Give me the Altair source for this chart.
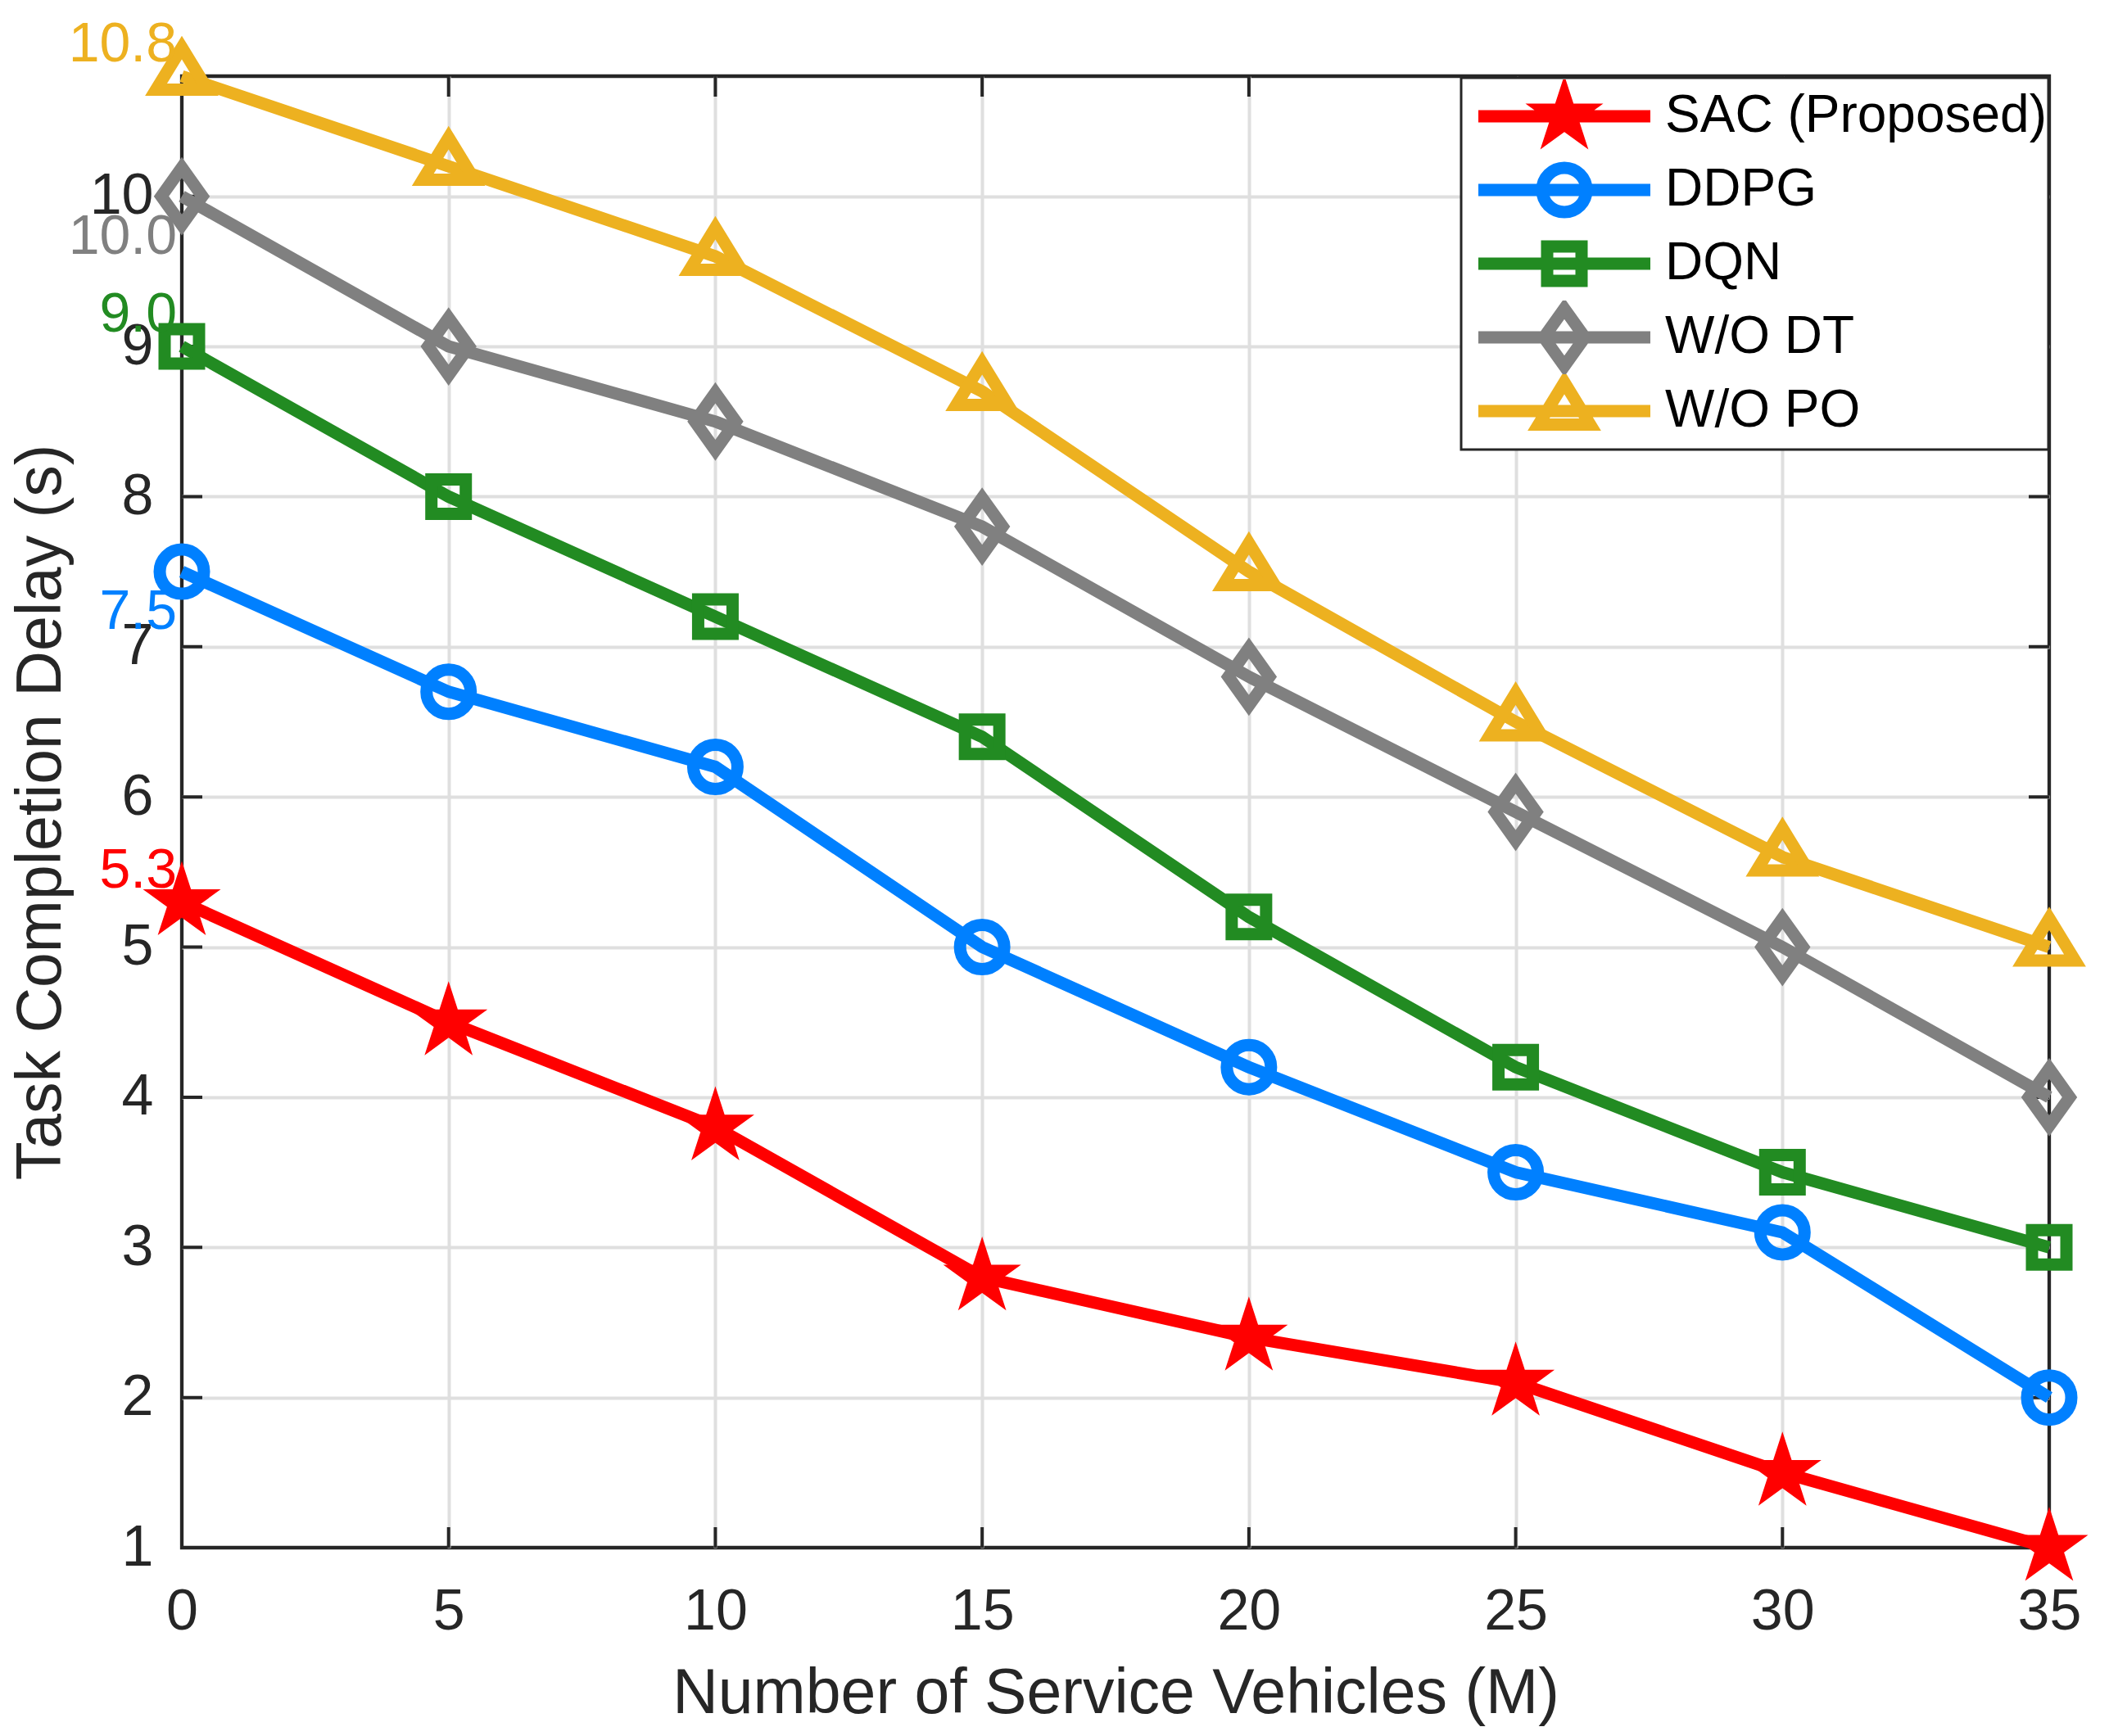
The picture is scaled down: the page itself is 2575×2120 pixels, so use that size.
import math

import altair as alt
import pandas as pd

# ---- data ----
vehicles = [0, 5, 10, 15, 20, 25, 30, 35]
series_names = ["SAC (Proposed)", "DDPG", "DQN", "W/O DT", "W/O PO"]
sac = [5.3, 4.5, 3.8, 2.8, 2.4, 2.1, 1.5, 1.0]
ddpg = [7.5, 6.7, 6.2, 5.0, 4.2, 3.5, 3.1, 2.0]
dqn = [9.0, 8.0, 7.2, 6.4, 5.2, 4.2, 3.5, 3.0]
wo_dt = [10.0, 9.0, 8.5, 7.8, 6.8, 5.9, 5.0, 4.0]
wo_po = [10.8, 10.2, 9.6, 8.7, 7.5, 6.5, 5.6, 5.0]

x_ticks = [0, 5, 10, 15, 20, 25, 30, 35]
y_ticks = [1, 2, 3, 4, 5, 6, 7, 8, 9, 10]
x_range = [0, 35]
y_range = [1, 10.8]

# series whose start label sits below the first marker
labels_below = ["DDPG", "W/O DT"]

colors = ["#FF0000", "#0080FF", "#228B22", "#808080", "#EDB120"]

FONT = "Liberation Sans"
INK = "#262626"
GRID = "#dfdfdf"


def marker_paths(unit):
    """SVG paths (vega symbol units) for star, circle, square, diamond, triangle.
    unit = pixels per path unit (sqrt(size) / 2). All are drawn stroke-only."""
    def p(x, y):
        return f"{x / unit:.4f},{y / unit:.4f}"

    def star_path(r_out):
        pts = []
        for k in range(10):
            r = r_out if k % 2 == 0 else r_out * 0.382
            a = math.radians(-90 + 36 * k)
            pts.append(p(r * math.cos(a), r * math.sin(a)))
        return "M" + "L".join(pts) + "Z"

    # a 15px miter stroke on a 25.7px star gives a solid 50px star
    star = star_path(25.7) + star_path(10)
    c = 27 / unit
    circle = f"M{-c:.4f},0A{c:.4f},{c:.4f},0,1,0,{c:.4f},0A{c:.4f},{c:.4f},0,1,0,{-c:.4f},0Z"
    square = "M" + "L".join([p(-21, -21), p(21, -21), p(21, 21), p(-21, 21)]) + "Z"
    diamond = "M" + "L".join([p(0, -35), p(25, 0), p(0, 35), p(-25, 0)]) + "Z"
    triangle = "M" + "L".join([p(0, -35), p(31.5, 16.5), p(-31.5, 16.5)]) + "Z"
    return [star, circle, square, diamond, triangle]


plot_paths = marker_paths(50)          # point size 10000
legend_unit = 24                       # legend symbolSize 2304
legend_paths = [
    m + f"M{-105 / legend_unit:.4f},0L{105 / legend_unit:.4f},0"
    for m in marker_paths(legend_unit)
]

df = pd.DataFrame({
    "M": vehicles * len(series_names),
    "delay": sac + ddpg + dqn + wo_dt + wo_po,
    "series": [s for s in series_names for _ in vehicles],
})
start = df[df["M"] == vehicles[0]]
start_above = start[~start["series"].isin(labels_below)]
start_below = start[start["series"].isin(labels_below)]

x_tick_df = pd.DataFrame({
    "M": x_ticks * 2,
    "delay": [y_range[0]] * len(x_ticks) + [y_range[1]] * len(x_ticks),
})
y_tick_df = pd.DataFrame({
    "M": [x_range[0]] * len(y_ticks) + [x_range[1]] * len(y_ticks),
    "delay": y_ticks * 2,
})

# ---- encodings ----
x_enc = alt.X(
    "M:Q",
    scale=alt.Scale(domain=x_range, nice=False, zero=False),
    axis=alt.Axis(
        values=x_ticks, title="Number of Service Vehicles (M)",
        ticks=False, domain=False, grid=True, gridWidth=4,
        gridColor={"condition": {"test": f"datum.value <= {x_range[0]} || datum.value >= {x_range[1]}",
                                 "value": "transparent"}, "value": GRID},
        labelFont=FONT, labelFontSize=70, labelColor=INK, labelPadding=44,
        labelFlush=False, labelOverlap=False,
        titleFont=FONT, titleFontSize=77, titleColor=INK, titleFontWeight="normal",
        titlePadding=27,
    ),
)
y_enc = alt.Y(
    "delay:Q",
    scale=alt.Scale(domain=y_range, nice=False, zero=False),
    axis=alt.Axis(
        values=y_ticks, title="Task Completion Delay (s)",
        ticks=False, domain=False, grid=True, gridWidth=4,
        gridColor={"condition": {"test": f"datum.value <= {y_range[0]} || datum.value >= {y_range[1]}",
                                 "value": "transparent"}, "value": GRID},
        labelFont=FONT, labelFontSize=70, labelColor=INK, labelPadding=35,
        labelFlush=False, labelOverlap=False,
        titleFont=FONT, titleFontSize=77, titleColor=INK, titleFontWeight="normal",
        titlePadding=20,
    ),
)
color_scale = alt.Scale(domain=series_names, range=colors)

legend = alt.Legend(
    title=None, orient="none", legendX=1562, legendY=2, direction="vertical",
    labelFont=FONT, labelFontSize=64, labelColor="#000000", labelLimit=1000,
    labelOffset=91, symbolSize=2304, symbolStrokeWidth=15, symbolOffset=92,
    symbolOpacity=1, symbolFillColor="transparent",
    clipHeight=90, rowPadding=0, padding=2,
    strokeColor=INK, fillColor="white",
)

# ---- layers ----
ticks_x = alt.Chart(x_tick_df).mark_tick(
    orient="vertical", size=50, thickness=4, color=INK, opacity=1, clip=True
).encode(x=x_enc, y=y_enc)
ticks_y = alt.Chart(y_tick_df).mark_tick(
    orient="horizontal", size=50, thickness=4, color=INK, opacity=1, clip=True
).encode(x=x_enc, y=y_enc)

lines = alt.Chart(df).mark_line(strokeWidth=15).encode(
    x=x_enc, y=y_enc,
    color=alt.Color("series:N", scale=color_scale, legend=None),
)
points = alt.Chart(df).mark_point(
    size=10000, strokeWidth=15, opacity=1, filled=False, strokeMiterLimit=10
).encode(
    x=x_enc, y=y_enc,
    color=alt.Color("series:N", scale=color_scale, legend=None),
    shape=alt.Shape("series:N", scale=alt.Scale(domain=series_names, range=plot_paths), legend=None),
)
legend_layer = alt.Chart(df).mark_point(
    size=2304, strokeWidth=15, opacity=0, filled=False
).encode(
    x=x_enc, y=y_enc,
    color=alt.Color("series:N", scale=color_scale, legend=legend),
    shape=alt.Shape("series:N", scale=alt.Scale(domain=series_names, range=legend_paths), legend=legend),
)
text_above = alt.Chart(start_above).mark_text(
    align="right", baseline="middle", dx=-6, dy=-38, fontSize=68, font=FONT
).encode(
    x=x_enc, y=y_enc,
    text=alt.Text("delay:Q", format=".1f"),
    color=alt.Color("series:N", scale=color_scale, legend=None),
)
text_below = alt.Chart(start_below).mark_text(
    align="right", baseline="middle", dx=-6, dy=50, fontSize=68, font=FONT
).encode(
    x=x_enc, y=y_enc,
    text=alt.Text("delay:Q", format=".1f"),
    color=alt.Color("series:N", scale=color_scale, legend=None),
)

chart = alt.layer(
    ticks_x, ticks_y, lines, points, legend_layer, text_above, text_below
).resolve_scale(
    color="independent", shape="independent"
).properties(
    width=2280,
    height=1797,
    autosize=alt.AutoSizeParams(type="none"),
    padding={"left": 214, "top": 85, "right": 65, "bottom": 222},
    background="white",
).configure_view(
    stroke=INK,
    strokeWidth=4.3,
).configure_legend(
    strokeWidth=3,
)

chart.save("out.html", embed_options={"renderer": "svg", "actions": False})
